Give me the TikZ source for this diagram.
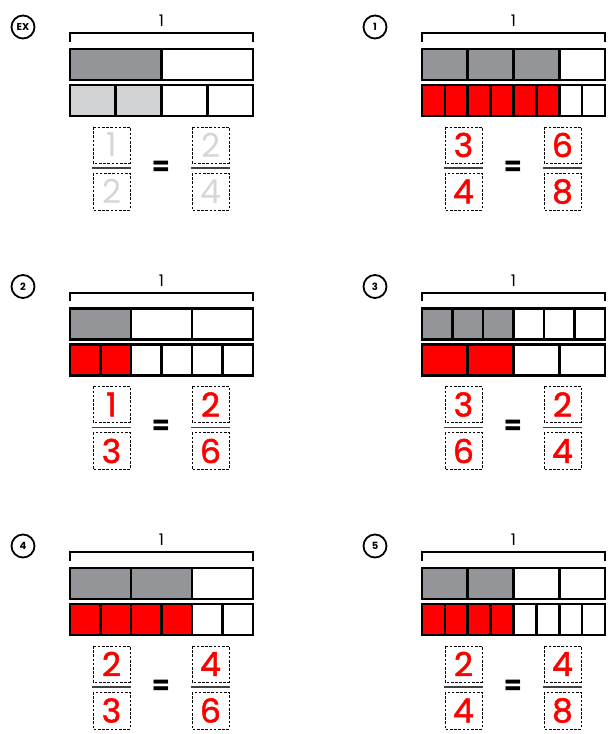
\documentclass[tikz,border=0pt]{standalone}
\usepackage{fontspec}
\setmainfont{Poppins}
\newfontfamily\inkfont{Poppins}[FakeBold=1.6]
\usepackage{tikz}
\usetikzlibrary{calc}
\usepackage{xcolor}
\definecolor{barshade}{RGB}{147,149,152}
\definecolor{lightshade}{RGB}{209,211,212}
\definecolor{ghost}{RGB}{212,214,216}
\definecolor{inkred}{RGB}{255,0,0}

\begin{document}
\begin{tikzpicture}[x=1pt,y=1pt,
    cellbox/.style={draw=black,line width=2.6pt},
    dashbox/.style={draw=black,line width=0.9pt,dash pattern=on 2.6pt off 1.6pt},
    digit/.style={inner sep=0pt,font=#1\fontsize{33}{36}\selectfont},
    tagdisc/.style={circle,draw=black,line width=1.8pt,minimum size=23pt,inner sep=0pt,font=\fontsize{10}{10}\selectfont\bfseries}]
    \useasboundingbox (0,0) rectangle (613,734);
    \foreach \px/\py/\tag/\na/\sa/\nb/\sb/\cb/\ct/\ff/\fa/\fb/\fc/\fd in
        {70/685/EX/2/1/4/2/lightshade/ghost/\rmfamily/1/2/2/4,
         422/685/1/4/3/8/6/inkred/inkred/\inkfont/3/4/6/8,
         70/425.5/2/3/1/6/2/inkred/inkred/\inkfont/1/3/2/6,
         422/425.5/3/6/3/4/2/inkred/inkred/\inkfont/3/6/2/4,
         70/166/4/3/2/6/4/inkred/inkred/\inkfont/2/3/4/6,
         422/166/5/4/2/8/4/inkred/inkred/\inkfont/2/4/4/8}{
        \node[tagdisc] (tag-\tag) at (\px-47,\py+22) {\tag};
        \node[inner sep=0pt,font=\fontsize{16}{16}\selectfont] (whole-\tag) at (\px+91.5,\py+28) {1};
        \draw[line width=2pt] (\px,\py+7)--(\px,\py+15.5)--(\px+183,\py+15.5)--(\px+183,\py+7);
        \pgfmathsetmacro\wa{183/\na}
        \foreach \i in {1,...,\na}{
            \ifnum\i>\sa \def\clr{white}\else \def\clr{barshade}\fi
            \filldraw[cellbox,fill=\clr] ({\px+(\i-1)*\wa},\py) rectangle ({\px+\i*\wa},\py-31);
        }
        \pgfmathsetmacro\wb{183/\nb}
        \foreach \i in {1,...,\nb}{
            \ifnum\i>\sb \def\clr{white}\else \def\clr{\cb}\fi
            \filldraw[cellbox,fill=\clr] ({\px+(\i-1)*\wb},\py-36) rectangle ({\px+\i*\wb},\py-67);
        }
        \draw[dashbox] (\px+23,\py-78) rectangle (\px+60,\py-114);
        \draw[dashbox] (\px+23,\py-124) rectangle (\px+60,\py-161);
        \draw[dashbox] (\px+122,\py-78) rectangle (\px+159,\py-114);
        \draw[dashbox] (\px+122,\py-124) rectangle (\px+159,\py-161);
        \draw[line width=1.8pt,black!75] (\px+22,\py-119)--(\px+61,\py-119);
        \draw[line width=1.8pt,black!75] (\px+121,\py-119)--(\px+160,\py-119);
        \node[digit=\ff,text=\ct] (na-\tag) at (\px+41.5,\py-96) {\fa};
        \node[digit=\ff,text=\ct] (da-\tag) at (\px+41.5,\py-142.5) {\fb};
        \node[digit=\ff,text=\ct] (nb-\tag) at (\px+140.5,\py-96) {\fc};
        \node[digit=\ff,text=\ct] (db-\tag) at (\px+140.5,\py-142.5) {\fd};
        \node[inner sep=0pt,font=\fontsize{26}{26}\selectfont\bfseries] (eq-\tag) at (\px+91,\py-119) {=};
    }
\end{tikzpicture}
\end{document}
